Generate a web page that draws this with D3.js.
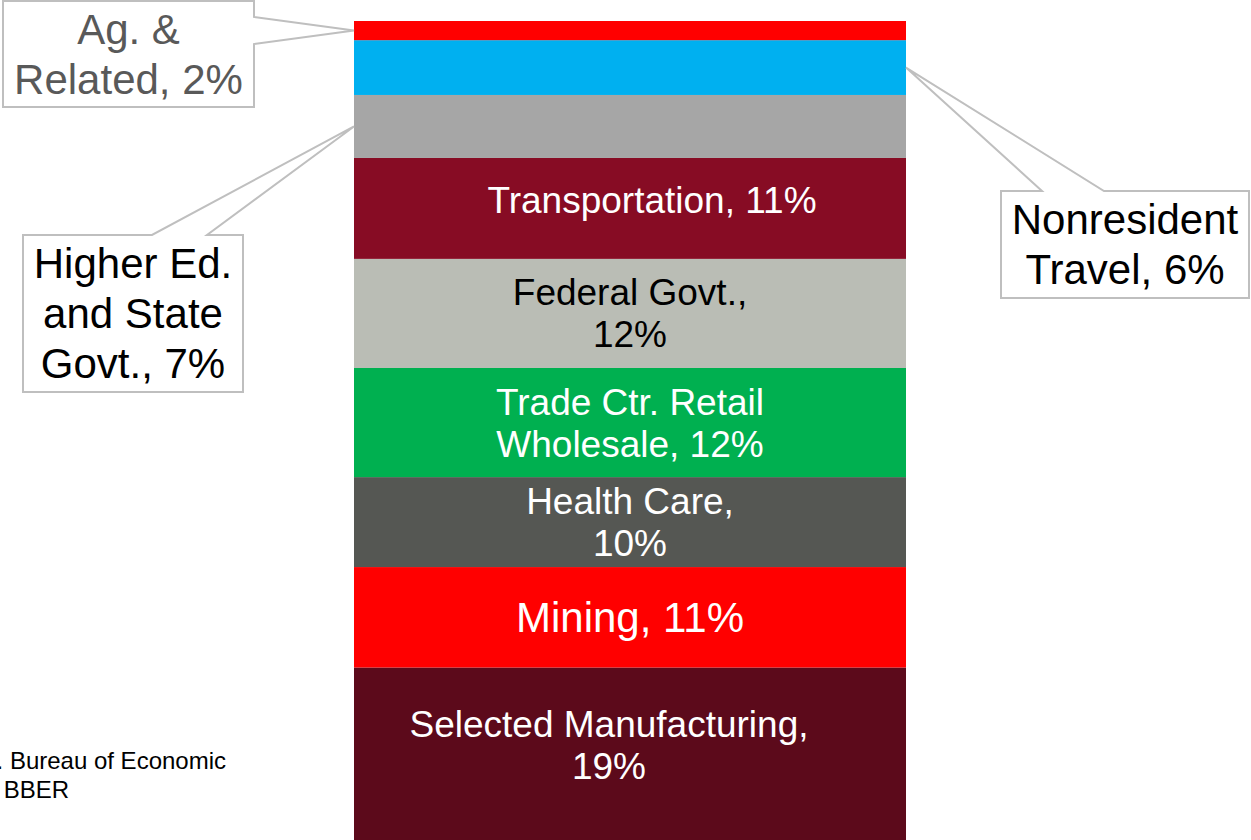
<!DOCTYPE html>
<html>
<head>
<meta charset="utf-8">
<script src="https://cdn.jsdelivr.net/npm/d3@7"></script>
<style>
  html, body { margin: 0; padding: 0; background: #fff; }
  svg { display: block; font-family: "Liberation Sans", Arial, sans-serif; }
</style>
</head>
<body>
<div class="viz"></div>
<script>
// stacked from bottom to top
const categories = ["Selected Manufacturing", "Mining", "Health Care", "Trade Ctr. Retail Wholesale",
    "Federal Govt.", "Transportation", "Higher Ed. and State Govt.", "Nonresident Travel", "Ag. & Related"];
const shares = [19.0, 11.0, 9.85, 11.95, 11.95, 11.05, 6.9, 6.0, 2.1];
const pctLabels = ["19%", "11%", "10%", "12%", "12%", "11%", "7%", "6%", "2%"];
const labelLines = [
    ["Selected Manufacturing,", "19%"],
    ["Mining, 11%"],
    ["Health Care,", "10%"],
    ["Trade Ctr. Retail", "Wholesale, 12%"],
    ["Federal Govt.,", "12%"],
    ["Transportation, 11%"],
    ["Higher Ed.", "and State", "Govt., 7%"],
    ["Nonresident", "Travel, 6%"],
    ["Ag. &", "Related, 2%"]
];
const colors = ["#5c0a1b", "#ff0000", "#555753", "#00b050", "#babdb5", "#870c24", "#a6a6a6", "#00b0f0", "#ff0000"];
const sourceLines = ["Source: U.S. Bureau of Economic", "Analysis; BBER"];

var width = 1251, height = 840;

var svg = d3.select('.viz').append('svg')
    .attr('width', width)
    .attr('height', height);

let stack = [];
let acc = 0;
shares.forEach((v, i) => {
    stack.push({ name: categories[i], y0: acc, y1: acc + v, i: i });
    acc += v;
});

var x = d3.scaleBand().domain(["share"]).range([354, 906]).padding(0);
var y = d3.scaleLinear().domain([0, acc]).range([841, 21]);

svg.append("g")
    .selectAll("rect")
    .data(stack)
    .enter().append("rect")
    .attr("x", x("share"))
    .attr("width", x.bandwidth())
    .attr("y", d => y(d.y1))
    .attr("height", d => y(d.y0) - y(d.y1))
    .attr("fill", d => colors[d.i]);

// labels inside the bar (first six segments)
const inside = { 0: { dx: -21, dy: -9, size: 37 }, 1: { dx: 0, dy: 0, size: 42 }, 2: {}, 3: {}, 4: {}, 5: { dx: 22, dy: -8, size: 37 } };
const lh = 42;

stack.filter(d => d.i < 6).forEach(d => {
    let o = inside[d.i];
    let size = o.size || 37;
    let lines = labelLines[d.i];
    let cx = x("share") + x.bandwidth() / 2 + (o.dx || 0);
    let cy = (y(d.y0) + y(d.y1)) / 2 + (o.dy || 0);
    let first = cy - (lines.length - 1) * lh / 2 + size * 0.35;
    let t = svg.append("text")
        .attr("text-anchor", "middle")
        .attr("font-size", size)
        .attr("fill", d.i === 4 ? "#000" : "#fff");
    lines.forEach((l, k) => {
        t.append("tspan").attr("x", cx).attr("y", first + k * 42).text(l);
    });
});

// callout boxes
function callout(i, box, side, a, b, tipSide, color) {
    let d = stack[i];
    let tx = tipSide === "left" ? x("share") : x("share") + x.bandwidth();
    let ty = (y(d.y0) + y(d.y1)) / 2;
    let p;
    if (side === "right") {
        p = [[box.x0, box.y0], [box.x1, box.y0], [box.x1, a], [tx, ty], [box.x1, b], [box.x1, box.y1], [box.x0, box.y1]];
    } else {
        p = [[box.x0, box.y0], [a, box.y0], [tx, ty], [b, box.y0], [box.x1, box.y0], [box.x1, box.y1], [box.x0, box.y1]];
    }
    svg.append("path")
        .attr("d", d3.line()(p) + "Z")
        .attr("fill", "#fff")
        .attr("stroke", "#bfbfbf")
        .attr("stroke-width", 2);

    let lines = labelLines[i];
    let cx = (box.x0 + box.x1) / 2;
    let cy = (box.y0 + box.y1) / 2;
    let first = cy - (lines.length - 1) * 50 / 2 + 42 * 0.35;
    let t = svg.append("text")
        .attr("text-anchor", "middle")
        .attr("font-size", 42)
        .attr("fill", color);
    lines.forEach((l, k) => {
        t.append("tspan").attr("x", cx).attr("y", first + k * 50).text(l);
    });
}

callout(8, { x0: 3, x1: 254, y0: 1, y1: 107 }, "right", 17, 44, "left", "#595959");
callout(6, { x0: 23, x1: 243, y0: 235, y1: 392 }, "top", 152, 207, "left", "#000");
callout(7, { x0: 1001, x1: 1249, y0: 191, y1: 298 }, "top", 1042, 1104, "right", "#000");

// source note (runs off the left edge)
svg.append("text")
    .attr("text-anchor", "end")
    .attr("font-size", 24)
    .attr("x", 226)
    .attr("y", 769)
    .text(sourceLines[0]);
svg.append("text")
    .attr("text-anchor", "end")
    .attr("font-size", 24)
    .attr("x", 69)
    .attr("y", 798)
    .text(sourceLines[1]);
</script>
</body>
</html>
